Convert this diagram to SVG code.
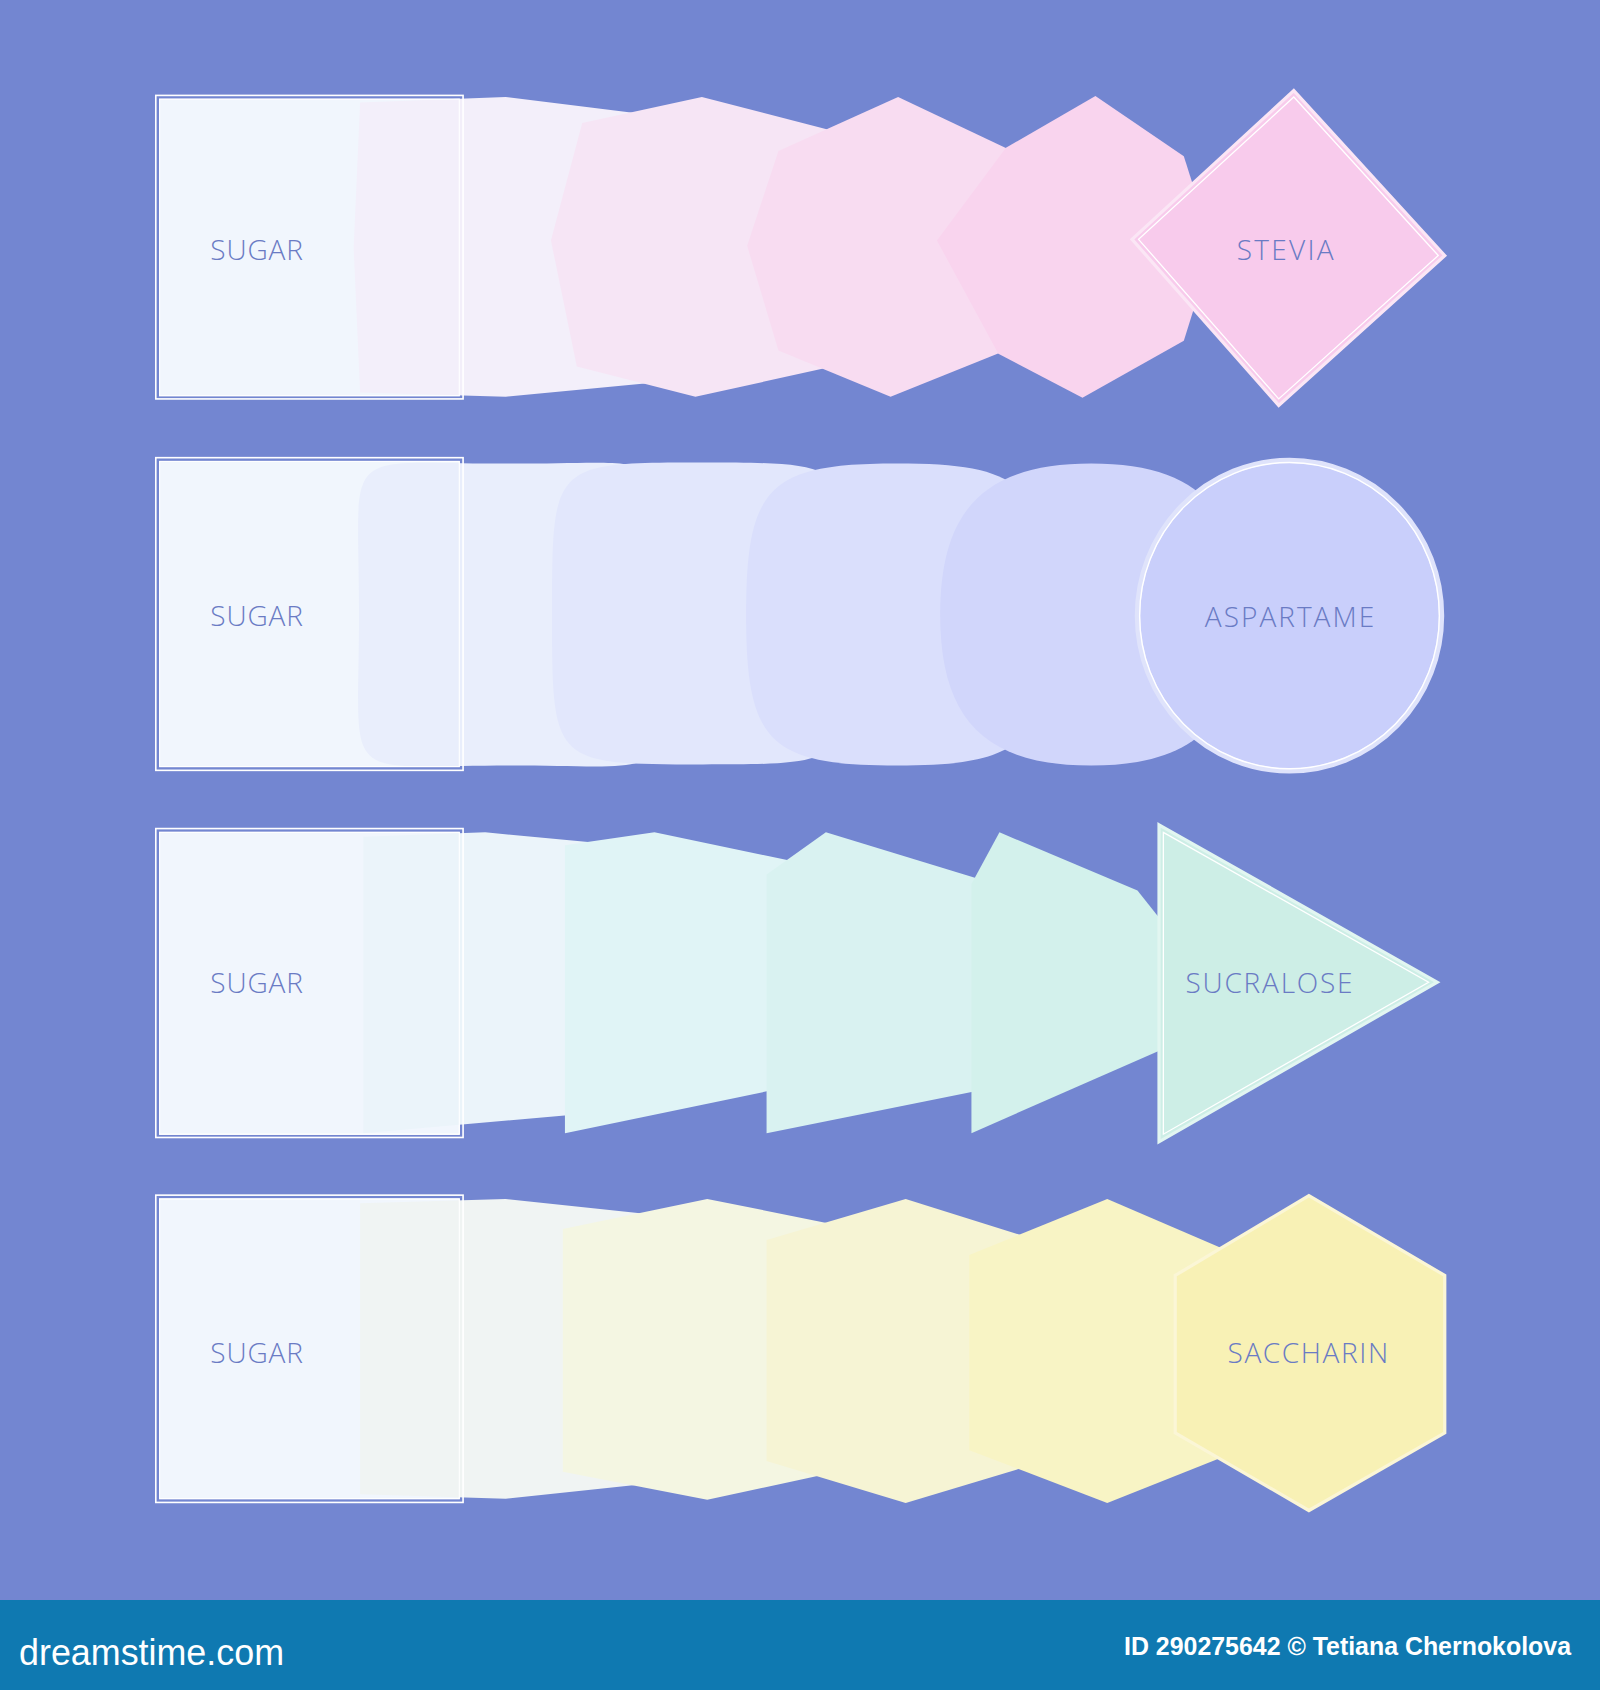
<svg xmlns="http://www.w3.org/2000/svg" width="1600" height="1690" viewBox="0 0 1600 1690">
<style>
.lbl{font-family:"Open Sans","Liberation Sans",Arial,sans-serif;font-weight:300;font-size:26px;fill:#6a7bc4;text-anchor:middle}
.frame{fill:none;stroke:#ffffff;stroke-width:1.5}
.sugar{fill:#f1f6fd;stroke:#ffffff;stroke-width:1}
.endo{stroke-width:3;stroke-linejoin:miter}
.endi{fill:none;stroke:#ffffff;stroke-width:1.2}
.foot{font-family:"Liberation Sans",Arial,sans-serif;fill:#ffffff;font-weight:bold}
</style>
<rect width="1600" height="1690" fill="#7386d1"/>
<g transform="scale(1.07817)">
  <!-- Row 1: Sugar to Stevia -->
  <g id="row-stevia">
    <g id="stevia-sugar-fill"><rect class="sugar" x="148" y="92" width="278" height="275"/></g>
    <g id="stevia-step1"><polygon points="334,95 469,90 615,108 645,230 615,354 469,368 334,364 328,230" fill="#f3effa"/></g>
    <g id="stevia-step2"><polygon points="511,223 540,114 651,90 790,126 810,230 790,336 645,368 535,340" fill="#f6e5f5"/></g>
    <g id="stevia-step3"><polygon points="693,228 722,140 833,90 945,143 965,230 950,318 826,368 722,325" fill="#f8dcf1"/></g>
    <g id="stevia-step4"><polygon points="869,223 933,137 1016,89 1098,145 1125,230 1098,316 1004,369 926,328" fill="#f9d4ee"/></g>
    <g id="stevia-node">
      <polygon class="endo" points="1200,84 1340,237 1186,376 1050,222" fill="#f8cbec" stroke="#fbe6f5"/>
      <polygon class="endi" points="1200,90 1334,237 1186,370 1056,222"/>
      <text class="lbl" x="1192" y="241" textLength="90" lengthAdjust="spacing">STEVIA</text>
    </g>
    <g id="stevia-sugar">
      <rect class="frame" x="144.5" y="88.5" width="285" height="281.5"/>
      <rect x="148" y="92" width="278" height="275" fill="none" stroke="#ffffff" stroke-width="1"/>
      <text class="lbl" x="238" y="241" textLength="86" lengthAdjust="spacing">SUGAR</text>
    </g>
  </g>

  <!-- Row 2: Sugar to Aspartame -->
  <g id="row-aspartame">
    <g id="aspartame-sugar-fill"><rect class="sugar" x="148" y="428" width="278" height="283"/></g>
    <g id="aspartame-step1"><path d="M473,430 C634,430 613,409 613,570 C613,731 634,710 473,710 C312,710 333,731 333,570 C333,409 312,430 473,430Z" fill="#e9eefc"/></g>
    <g id="aspartame-step2"><path d="M652,429 C792,429 792,429 792,569 C792,709 792,709 652,709 C512,709 512,709 512,569 C512,429 512,429 652,429Z" fill="#e2e7fc"/></g>
    <g id="aspartame-step3"><path d="M832,430 C951,430 972,451 972,570 C972,689 951,710 832,710 C713,710 692,689 692,570 C692,451 713,430 832,430Z" fill="#dadffc"/></g>
    <g id="aspartame-step4"><path d="M1012,430 C1110,430 1152,472 1152,570 C1152,668 1110,710 1012,710 C914,710 872,668 872,570 C872,472 914,430 1012,430Z" fill="#d1d6fb"/></g>
    <g id="aspartame-node">
      <ellipse cx="1196" cy="571" rx="141" ry="144" fill="#c9cffb" stroke="#dfe3fb" stroke-width="5"/>
      <ellipse cx="1196" cy="571" rx="139" ry="142" fill="none" stroke="#ffffff" stroke-width="1.3"/>
      <text class="lbl" x="1196" y="582" textLength="157" lengthAdjust="spacing">ASPARTAME</text>
    </g>
    <g id="aspartame-sugar">
      <rect class="frame" x="144.5" y="424.5" width="285" height="290"/>
      <rect x="148" y="428" width="278" height="283" fill="none" stroke="#ffffff" stroke-width="1"/>
      <text class="lbl" x="238" y="581" textLength="86" lengthAdjust="spacing">SUGAR</text>
    </g>
  </g>

  <!-- Row 3: Sugar to Sucralose -->
  <g id="row-sucralose">
    <g id="sucralose-sugar-fill"><rect class="sugar" x="148" y="772" width="278" height="280"/></g>
    <g id="sucralose-step1"><polygon points="337,776 450,772 600,786 650,910 600,1028 337,1051" fill="#ebf4fa"/></g>
    <g id="sucralose-step2"><polygon points="524,784 607,772 770,806 800,910 770,1000 524,1051" fill="#e0f4f6"/></g>
    <g id="sucralose-step3"><polygon points="711,811 766,772 930,822 960,910 930,1007 711,1051" fill="#d9f2f1"/></g>
    <g id="sucralose-step4"><polygon points="901,820 927,772 1055,826 1090,870 1100,910 1090,968 901,1051" fill="#d3f1ec"/></g>
    <g id="sucralose-node">
      <polygon class="endo" points="1075,765 1333,911 1075,1059" fill="#cdeee6" stroke="#e2f6f1"/>
      <polygon class="endi" points="1079,772 1325,911 1079,1052"/>
      <text class="lbl" x="1177" y="921" textLength="155" lengthAdjust="spacing">SUCRALOSE</text>
    </g>
    <g id="sucralose-sugar">
      <rect class="frame" x="144.5" y="768.5" width="285" height="286.5"/>
      <rect x="148" y="772" width="278" height="280" fill="none" stroke="#ffffff" stroke-width="1"/>
      <text class="lbl" x="238" y="921" textLength="86" lengthAdjust="spacing">SUGAR</text>
    </g>
  </g>

  <!-- Row 4: Sugar to Saccharin -->
  <g id="row-saccharin">
    <g id="saccharin-sugar-fill"><rect class="sugar" x="148" y="1112" width="278" height="278"/></g>
    <g id="saccharin-step1"><polygon points="334,1116 469,1112 620,1128 650,1250 620,1374 469,1390 334,1386" fill="#f0f4f3"/></g>
    <g id="saccharin-step2"><polygon points="522,1140 656,1112 800,1141 820,1250 800,1360 656,1391 522,1365" fill="#f4f6e2"/></g>
    <g id="saccharin-step3"><polygon points="711,1150 840,1112 980,1156 1000,1255 980,1352 840,1394 711,1355" fill="#f6f4d4"/></g>
    <g id="saccharin-step4"><polygon points="899,1164 1027,1112 1150,1165 1170,1255 1150,1345 1027,1394 899,1345" fill="#f8f4c5"/></g>
    <g id="saccharin-node">
      <polygon class="endo" points="1214,1109 1340,1183 1340,1329 1214,1401 1090,1329 1090,1183" fill="#f8f1b5" stroke="#fbf6d6"/>
      <text class="lbl" x="1213" y="1264" textLength="149" lengthAdjust="spacing">SACCHARIN</text>
    </g>
    <g id="saccharin-sugar">
      <rect class="frame" x="144.5" y="1108.5" width="285" height="285"/>
      <rect x="148" y="1112" width="278" height="278" fill="none" stroke="#ffffff" stroke-width="1"/>
      <text class="lbl" x="238" y="1264" textLength="86" lengthAdjust="spacing">SUGAR</text>
    </g>
  </g>
  <g id="connectors"></g>
</g>
<g id="footer">
  <rect x="0" y="1600" width="1600" height="90" fill="#0f79b1"/>
  <text class="foot" x="19" y="1665" font-size="36" textLength="265" lengthAdjust="spacingAndGlyphs" style="font-weight:normal">dreamstime.com</text>
  <text class="foot" x="1571" y="1655" font-size="25" text-anchor="end" textLength="447" lengthAdjust="spacingAndGlyphs">ID 290275642 © Tetiana Chernokolova</text>
</g>
</svg>
